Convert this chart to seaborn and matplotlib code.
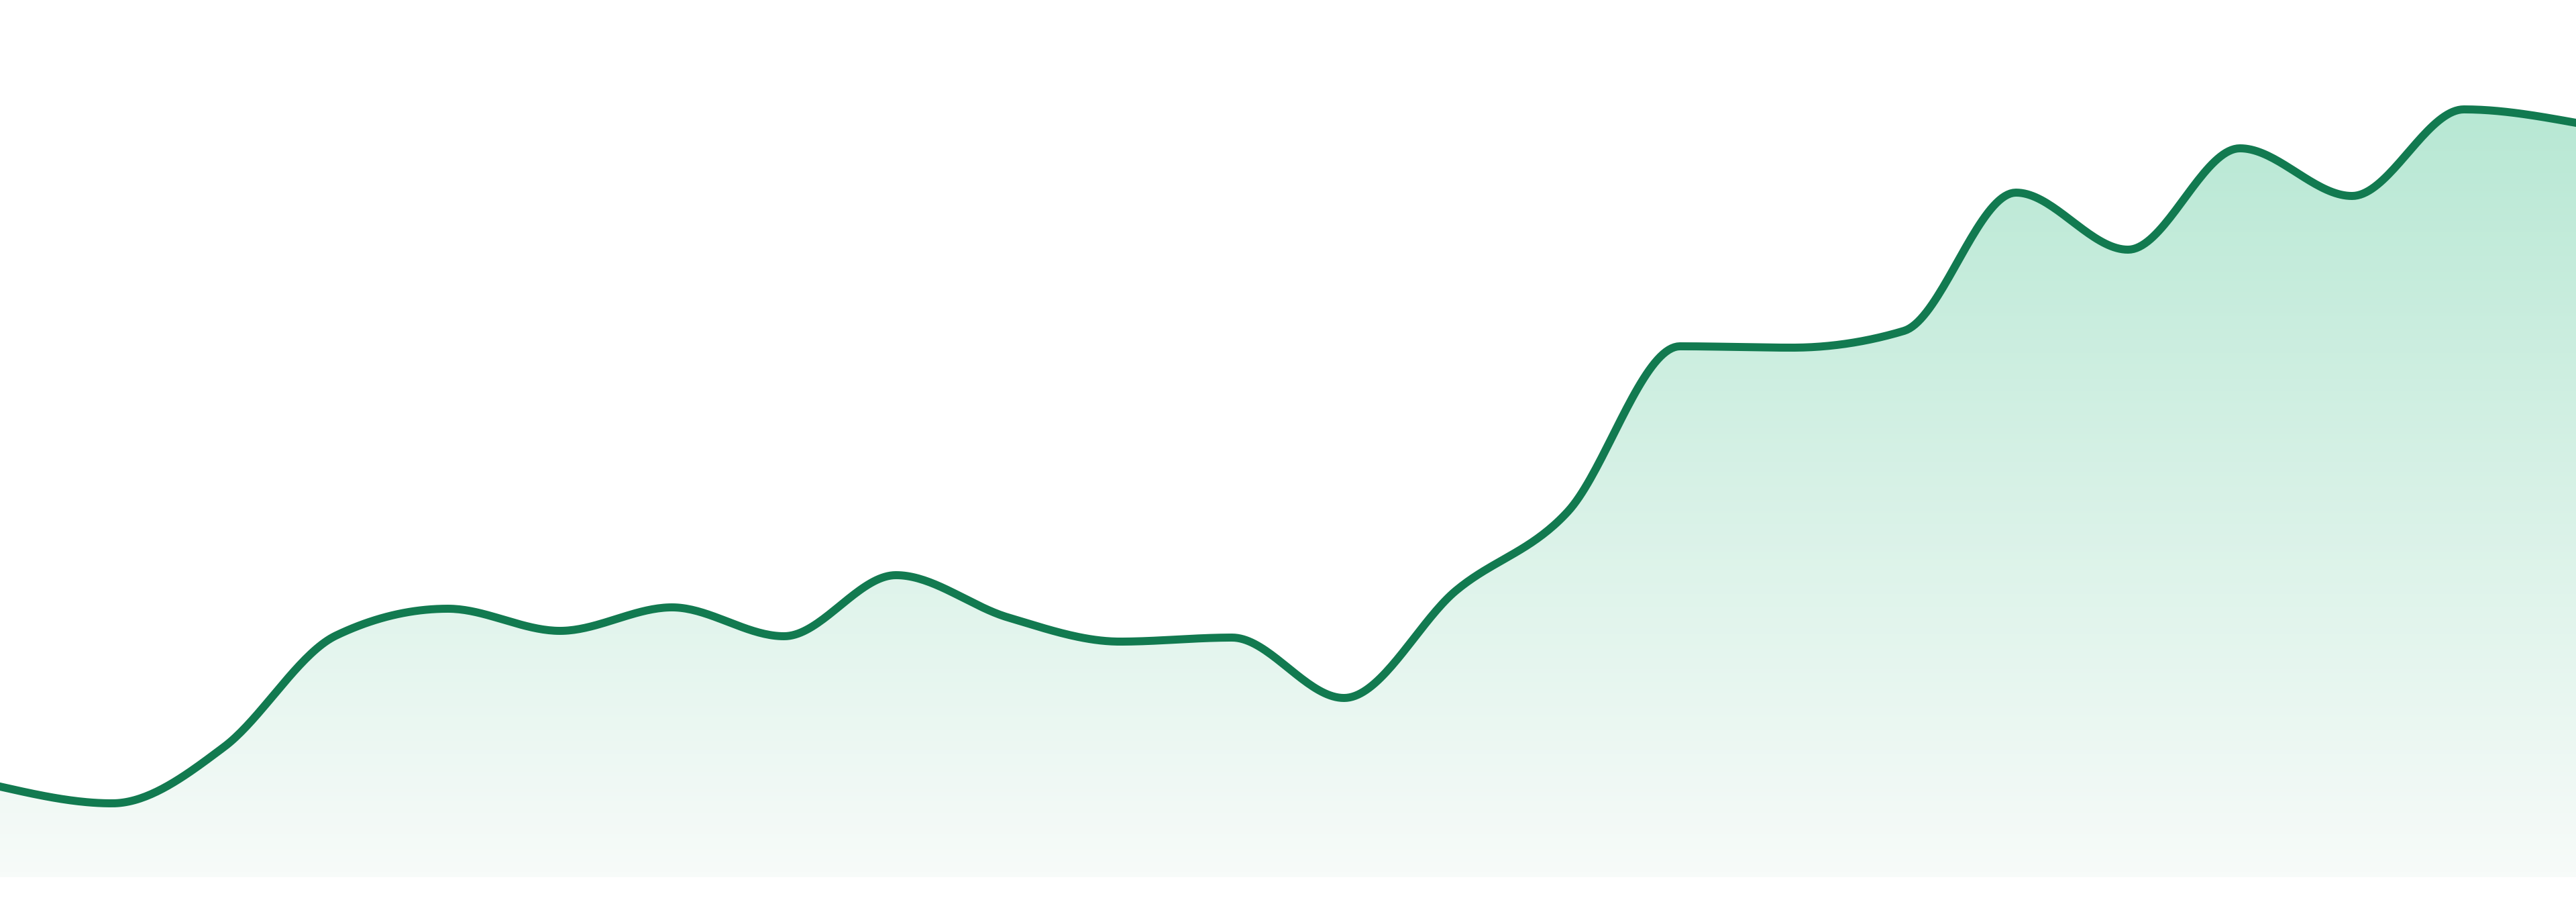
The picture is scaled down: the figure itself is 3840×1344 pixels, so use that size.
# Smooth area chart with a green line and a fading mint fill
import numpy as np
import pandas as pd
import seaborn as sns
import matplotlib
matplotlib.use("Agg")
import matplotlib.pyplot as plt
from matplotlib.colors import LinearSegmentedColormap

# Data (24 evenly spaced points, no axes shown)
steps = list(range(24))
values = [135, 110, 194, 360, 400, 367, 402, 359, 450, 387, 351, 357,
          267, 427, 545, 791, 789, 814, 1020, 935, 1086, 1015, 1144, 1124]

line_color = "#127a50"
fill_top = "#b8e8d4"
fill_bottom = "#f7fbf9"


def monotone_x(x, y, n=40):
    # monotone cubic curve (same idea as d3.curveMonotoneX)
    x = np.asarray(x, float)
    y = np.asarray(y, float)
    h = np.diff(x)
    s = np.diff(y) / h
    t = np.zeros_like(y)
    for i in range(1, len(y) - 1):
        s0, s1 = s[i - 1], s[i]
        p = (s0 * h[i] + s1 * h[i - 1]) / (h[i - 1] + h[i])
        t[i] = (np.sign(s0) + np.sign(s1)) * min(abs(s0), abs(s1), 0.5 * abs(p))
    t[0] = (3 * s[0] - t[1]) / 2
    t[-1] = (3 * s[-1] - t[-2]) / 2
    xs, ys = [], []
    for i in range(len(h)):
        u = np.linspace(0, 1, n, endpoint=False)
        h00 = 2 * u**3 - 3 * u**2 + 1
        h10 = u**3 - 2 * u**2 + u
        h01 = -2 * u**3 + 3 * u**2
        h11 = u**3 - u**2
        xs.append(x[i] + u * h[i])
        ys.append(h00 * y[i] + h10 * h[i] * t[i] + h01 * y[i + 1] + h11 * h[i] * t[i + 1])
    xs.append([x[-1]])
    ys.append([y[-1]])
    return np.concatenate(xs), np.concatenate(ys)


cx, cy = monotone_x(steps, values)
curve = pd.DataFrame({"step": cx, "value": cy})

fig = plt.figure(figsize=(38.4, 13.44), dpi=100)
ax = fig.add_axes([0, 37 / 1344, 1, 1307 / 1344])
ax.set_xlim(0, 23)
ax.set_ylim(0, 1307)

# gradient fill under the curve
cmap = LinearSegmentedColormap.from_list("mint", [fill_bottom, fill_top])
grad = np.clip(np.linspace(0, 1307, 400) / max(values), 0, 1).reshape(-1, 1)
img = ax.imshow(grad, cmap=cmap, vmin=0, vmax=1, aspect="auto", origin="lower",
                extent=[0, 23, 0, 1307], zorder=1)
poly = ax.fill_between(curve["step"], curve["value"], 0, color="none", lw=0)
img.set_clip_path(poly.get_paths()[0], transform=ax.transData)

sns.lineplot(data=curve, x="step", y="value", color=line_color, linewidth=8.6,
             ax=ax, zorder=3, sort=False)
ax.lines[-1].set_solid_joinstyle("round")

ax.set_axis_off()
fig.savefig("out.png", dpi=100, facecolor="white")
